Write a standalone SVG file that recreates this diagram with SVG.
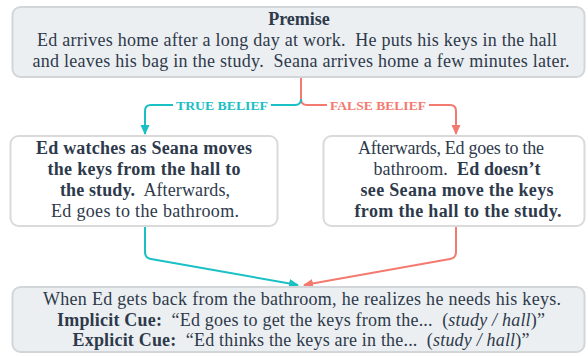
<svg xmlns="http://www.w3.org/2000/svg" width="588" height="356" viewBox="0 0 588 356">
<style>
.t{font-family:"Liberation Serif","Times New Roman",serif;font-size:18px;fill:#2e3a4b;text-anchor:middle}
.b{font-weight:bold}
.i{font-style:italic}
.gray{fill:#eceff1;stroke:#d3d6d8;stroke-width:2}
.white{fill:#ffffff;stroke:#dadada;stroke-width:2}
.lbl{font-family:"Liberation Serif","Times New Roman",serif;font-size:13px;font-weight:bold;text-anchor:middle}
.cy{stroke:#19c0c4;stroke-width:2;fill:none}
.rd{stroke:#f47a70;stroke-width:2;fill:none}
</style>
<defs>
<marker id="ac" markerWidth="10" markerHeight="10" refX="9" refY="5" orient="auto" markerUnits="userSpaceOnUse"><path d="M0,0.5 L10,5 L0,9.5 Z" fill="#19c0c4"/></marker>
<marker id="ar" markerWidth="10" markerHeight="10" refX="9" refY="5" orient="auto" markerUnits="userSpaceOnUse"><path d="M0,0.5 L10,5 L0,9.5 Z" fill="#f47a70"/></marker>
</defs>
<g id="connectors">
<path class="rd" d="M301,78 V99 Q301,105 307,105 H450 Q456,105 456,111 V134" marker-end="url(#ar)"/>
<path class="cy" d="M301,99 Q301,105 295,105 H151 Q145,105 145,111 V134" marker-end="url(#ac)"/>
<rect x="173" y="96" width="98" height="18" fill="#ffffff"/>
<rect x="327" y="96" width="102" height="18" fill="#ffffff"/>
<text class="lbl" x="222" y="110" fill="#19c0c4" textLength="92" lengthAdjust="spacingAndGlyphs">TRUE BELIEF</text>
<text class="lbl" x="378" y="110" fill="#f47a70" textLength="96" lengthAdjust="spacingAndGlyphs">FALSE BELIEF</text>
<path class="cy" d="M145,227 V252 Q145,258 151,259 L298,285" marker-end="url(#ac)"/>
<path class="rd" d="M456,227 V252 Q456,258 450,259 L304,285" marker-end="url(#ar)"/>
</g>
<g id="premise">
<rect class="gray" x="12.5" y="7" width="572" height="70" rx="8"/>
<text class="t b" x="299" y="25">Premise</text>
<text class="t" x="297" y="46" textLength="520" lengthAdjust="spacing">Ed arrives home after a long day at work.&#160; He puts his keys in the hall</text>
<text class="t" x="301" y="67" textLength="537" lengthAdjust="spacing">and leaves his bag in the study.&#160; Seana arrives home a few minutes later.</text>
</g>
<g id="true-belief">
<rect class="white" x="10.5" y="136" width="267" height="90" rx="8"/>
<text class="t" x="144" y="154" textLength="216" lengthAdjust="spacing"><tspan class="b">Ed watches as Seana moves</tspan></text>
<text class="t" x="144" y="175" textLength="193" lengthAdjust="spacing"><tspan class="b">the keys from the hall to</tspan></text>
<text class="t" x="145" y="196" textLength="170" lengthAdjust="spacing"><tspan class="b">the study.</tspan>&#160; Afterwards,</text>
<text class="t" x="145" y="217" textLength="188" lengthAdjust="spacing">Ed goes to the bathroom.</text>
</g>
<g id="false-belief">
<rect class="white" x="323.5" y="136" width="261" height="90" rx="8"/>
<text class="t" x="451" y="154" textLength="186" lengthAdjust="spacing">Afterwards, Ed goes to the</text>
<text class="t" x="457" y="175" textLength="167" lengthAdjust="spacing">bathroom.&#160; <tspan class="b">Ed doesn’t</tspan></text>
<text class="t" x="457" y="196" textLength="193" lengthAdjust="spacing"><tspan class="b">see Seana move the keys</tspan></text>
<text class="t" x="458" y="217" textLength="207" lengthAdjust="spacing"><tspan class="b">from the hall to the study.</tspan></text>
</g>
<g id="outcome">
<rect class="gray" x="12.5" y="287" width="572" height="65" rx="8"/>
<text class="t" x="302" y="305" textLength="518" lengthAdjust="spacing">When Ed gets back from the bathroom, he realizes he needs his keys.</text>
<text class="t" x="301" y="326" textLength="488" lengthAdjust="spacing"><tspan class="b">Implicit Cue:</tspan>&#160; “Ed goes to get the keys from the...&#160; (<tspan class="i">study / hall</tspan>)”</text>
<text class="t" x="301" y="346" textLength="457" lengthAdjust="spacing"><tspan class="b">Explicit Cue:</tspan>&#160; “Ed thinks the keys are in the...&#160; (<tspan class="i">study / hall</tspan>)”</text>
</g>
</svg>
